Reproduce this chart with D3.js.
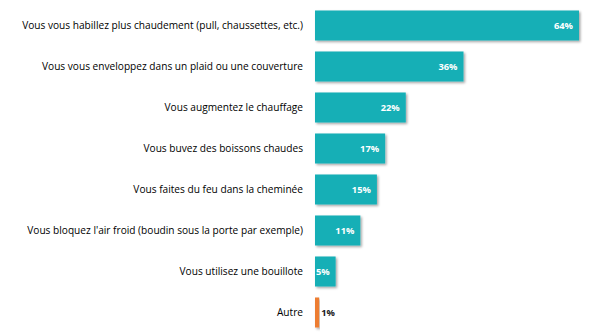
<!DOCTYPE html>
<html><head><meta charset="utf-8">
<script src="https://cdn.jsdelivr.net/npm/d3@7"></script>
<style>
html,body{margin:0;padding:0;background:#fff;}
svg{display:block;}
</style></head>
<body>
<svg id="chart" width="600" height="334"></svg>
<script>
const categories = [
  "Vous vous habillez plus chaudement (pull, chaussettes, etc.)",
  "Vous vous enveloppez dans un plaid ou une couverture",
  "Vous augmentez le chauffage",
  "Vous buvez des boissons chaudes",
  "Vous faites du feu dans la cheminée",
  "Vous bloquez l'air froid (boudin sous la porte par exemple)",
  "Vous utilisez une bouillote",
  "Autre"
];
const values = [64, 36, 22, 17, 15, 11, 5, 1];
const highlight = ["no","no","no","no","no","no","no","yes"];

const svg = d3.select("#chart");
const x = d3.scaleLinear().domain([0, 64]).range([315, 579]);
const y = d3.scaleBand().domain(categories).range([5, 333]).paddingInner(0.268).paddingOuter(0.134);

const defs = svg.append("defs");
const f = defs.append("filter").attr("id","sh").attr("x","-10%").attr("y","-20%").attr("width","130%").attr("height","160%");
f.append("feDropShadow").attr("dx",1.5).attr("dy",1.5).attr("stdDeviation",1).attr("flood-color","#000").attr("flood-opacity",0.35);

const g = svg.append("g");
categories.forEach((c, i) => {
  const v = values[i];
  const yy = y(c), h = y.bandwidth();
  g.append("rect")
    .attr("x", x(0)).attr("y", yy)
    .attr("width", x(v) - x(0)).attr("height", h)
    .attr("fill", highlight[i] === "yes" ? "#ED7D31" : "#14AFB6")
    .attr("filter", "url(#sh)");
  g.append("text")
    .attr("x", 303).attr("y", yy + h/2)
    .attr("dy", "0.35em")
    .attr("text-anchor", "end")
    .attr("font-family", "'Open Sans', sans-serif")
    .attr("font-size", 10.15)
    .attr("fill", "#000")
    .text(c);
  const inside = v >= 5;
  g.append("text")
    .attr("x", inside ? x(v) - 6 : x(v) + 2).attr("y", yy + h/2)
    .attr("dy", "0.35em")
    .attr("text-anchor", inside ? "end" : "start")
    .attr("font-family", "'Open Sans', sans-serif")
    .attr("font-weight", "bold")
    .attr("font-size", 9.3)
    .attr("fill", inside ? "#fff" : "#1a1a1a")
    .text(v + "%");
});
</script>
</body></html>
